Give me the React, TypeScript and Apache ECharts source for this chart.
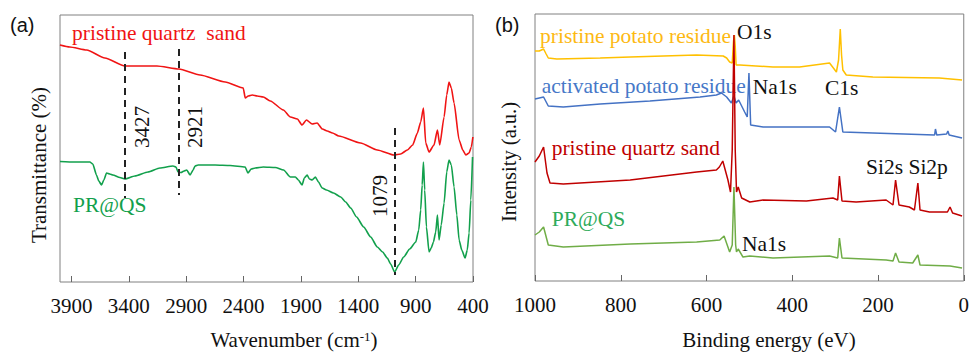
import React, { useEffect, useRef } from "react";
import * as echarts from "echarts";

// ---------- (a) FTIR ----------
const ftirTicks = [400, 900, 1400, 1900, 2400, 2900, 3400, 3900];

const ftirQuartzSand: [number, number][] = [
  [4000, 237], [3915, 235], [3767, 232], [3609, 224], [3434, 216], [3303, 216], [3155, 216],
  [2963, 213], [2779, 207], [2560, 200], [2403, 194], [2385, 184], [2359, 186], [2324, 187],
  [2281, 186], [2228, 185], [2167, 181], [2053, 172], [1992, 165], [1931, 163], [1890, 157],
  [1852, 162], [1802, 158], [1759, 159], [1713, 153], [1671, 151], [1625, 149], [1570, 146],
  [1380, 139], [1234, 132], [1089, 127], [1031, 128], [972, 132], [926, 137], [885, 149],
  [856, 160], [832, 174], [812, 139], [783, 130], [740, 137], [710, 152], [690, 137],
  [652, 165], [629, 187], [609, 200], [589, 194], [565, 179], [521, 142], [489, 132],
  [463, 127], [434, 129], [415, 135], [401, 145],
];

const ftirPRQS: [number, number][] = [
  [4000, 120.5], [3871, 120], [3740, 120], [3714, 118], [3682, 107], [3662, 101], [3638, 97],
  [3618, 102], [3594, 109], [3566, 108], [3539, 107], [3478, 104.5], [3434, 103], [3347, 106],
  [3233, 110], [3129, 114], [3015, 116], [2989, 115], [2971, 110], [2945, 109.5], [2919, 111],
  [2895, 112], [2866, 107], [2840, 112], [2823, 116], [2796, 117], [2648, 117], [2517, 116.5],
  [2386, 115], [2362, 109], [2333, 113], [2298, 114], [2228, 115], [2123, 114.5], [2051, 112],
  [1992, 105], [1948, 105], [1922, 102], [1890, 97], [1870, 104], [1846, 107], [1826, 103],
  [1802, 102], [1774, 105], [1747, 100], [1715, 94], [1677, 92], [1616, 89], [1553, 85],
  [1510, 80], [1466, 74], [1415, 65], [1353, 55], [1292, 45], [1234, 35], [1188, 30],
  [1147, 24], [1118, 18], [1083, 10], [1048, 17], [1004, 25], [952, 33], [899, 40], [873, 52],
  [856, 72], [843, 97], [832, 120], [821, 92], [806, 55], [783, 30], [764, 34], [745, 40],
  [725, 50], [710, 67], [696, 42], [677, 57], [652, 79], [629, 110], [609, 122], [589, 117],
  [565, 95], [541, 67], [521, 42], [498, 32], [469, 24], [450, 32], [434, 49], [419, 82],
  [404, 125],
];

// dashed marker lines: [wavenumber position, top value, bottom value]
const ftirMarkers: [number, number, number][] = [
  [3434, 230, 84],
  [2963, 233, 87],
  [1083, 154, 7],
];

// ---------- (b) XPS ----------
const xpsPristinePotato: [number, number][] = [
  [1000, 230], [990, 230], [980, 232], [974, 227], [969, 223], [949, 222], [848, 223],
  [778, 224], [623, 226], [561, 225], [553, 223], [546, 219], [540, 218], [537, 240],
  [535, 246], [533, 235], [531, 216], [522, 216], [445, 214], [383, 214], [313, 218],
  [297, 209], [292, 221], [288, 252], [285, 226], [282, 211], [274, 206], [212, 204],
  [57, 203], [4, 201],
];

const xpsActivatedPotato: [number, number][] = [
  [1000, 182], [980, 184], [969, 175], [934, 174], [848, 177], [732, 180], [615, 184],
  [577, 186], [565, 188], [553, 184], [542, 178], [536, 185], [531, 178], [525, 181],
  [511, 169], [505, 164], [501, 208], [497, 156], [468, 154], [383, 154], [313, 154],
  [299, 149], [290, 174], [282, 149], [212, 148], [68, 146], [66, 152], [63, 146],
  [40, 147], [37, 150], [34, 146], [4, 143],
];

const xpsQuartzSand: [number, number][] = [
  [1000, 119], [990, 125], [980, 134], [972, 108], [965, 98], [934, 97], [778, 101],
  [623, 109], [577, 111], [570, 114], [562, 120], [550, 101], [544, 89], [540, 131],
  [536, 246], [533, 131], [530, 89], [526, 94], [518, 83], [499, 79], [468, 81], [367, 80],
  [305, 83], [294, 81], [290, 105], [284, 80], [251, 79], [181, 81], [165, 76], [159, 101],
  [151, 76], [127, 74], [115, 71], [107, 98], [102, 71], [80, 69], [38, 69], [32, 74],
  [26, 68], [4, 65],
];

const xpsPRQS: [number, number][] = [
  [1000, 46], [990, 49], [980, 54], [969, 36], [934, 34], [778, 37], [623, 39], [569, 41],
  [559, 45], [546, 29], [540, 36], [536, 94], [532, 36], [530, 29], [526, 32], [515, 24],
  [499, 25], [445, 23], [313, 25], [294, 23], [290, 43], [284, 23], [181, 21], [165, 20],
  [159, 28], [151, 19], [119, 18], [107, 26], [102, 16], [32, 15], [4, 13],
];

const SERIF = "Liberation Serif";
const SANS = "Liberation Sans";

function txt(
  text: string,
  x: number,
  y: number,
  fill = "#111",
  opts: { size?: number; align?: string; rot?: number; family?: string; rich?: any } = {}
) {
  const size = opts.size ?? 21.5;
  const align = opts.align ?? "left";
  const family = opts.family ?? SERIF;
  return {
    type: "text",
    x,
    y,
    rotation: opts.rot ?? 0,
    silent: true,
    style: {
      text,
      fill,
      font: `${size}px "${family}"`,
      align,
      verticalAlign: "middle",
      rich: opts.rich,
    },
  };
}

export default function App() {
  const ref = useRef<HTMLDivElement>(null);

  useEffect(() => {
    if (!ref.current) return;
    const chart = echarts.init(ref.current, undefined, { renderer: "svg" });

    const axisLabelStyle = {
      fontSize: 21,
      fontFamily: SERIF,
      color: "#111",
      margin: 13,
      formatter: (v: number) => `{t|${v}}`,
      rich: { t: { fontSize: 21, fontFamily: SERIF, color: "#111" } },
    };

    const option: any = {
      animation: false,
      backgroundColor: "#fff",
      textStyle: { fontFamily: SERIF, fontSize: 21 },
      grid: [
        { left: 60, top: 15, width: 413, height: 267, show: true, borderColor: "#808080", borderWidth: 1 },
        { left: 535, top: 14, width: 429, height: 267, show: true, borderColor: "#808080", borderWidth: 1 },
      ],
      xAxis: [
        {
          gridIndex: 0,
          type: "value",
          min: 400,
          max: 4000,
          inverse: true,
          axisLine: { show: false },
          axisTick: { show: true, inside: true, length: 6, lineStyle: { color: "#666" }, customValues: ftirTicks },
          axisLabel: { ...axisLabelStyle, customValues: ftirTicks },
          splitLine: { show: false },
        },
        {
          gridIndex: 1,
          type: "value",
          min: 0,
          max: 1000,
          interval: 200,
          inverse: true,
          axisLine: { show: false },
          axisTick: { show: true, inside: true, length: 6, lineStyle: { color: "#666" } },
          axisLabel: { ...axisLabelStyle },
          splitLine: { show: false },
        },
      ],
      yAxis: [
        { gridIndex: 0, type: "value", min: 0, max: 267, show: false },
        { gridIndex: 1, type: "value", min: 0, max: 267, show: false },
      ],
      series: [
        {
          type: "line",
          xAxisIndex: 0,
          yAxisIndex: 0,
          data: ftirQuartzSand,
          symbol: "none",
          smooth: 0.2,
          smoothMonotone: "x",
          lineStyle: { color: "#f01414", width: 1.6 },
          z: 3,
          markLine: {
            silent: true,
            symbol: ["none", "none"],
            label: { show: false },
            lineStyle: { color: "#222", width: 2, type: [7, 5] },
            data: ftirMarkers.map(([x, y1, y2]) => [{ coord: [x, y1] }, { coord: [x, y2] }]),
          },
        },
        {
          type: "line",
          xAxisIndex: 0,
          yAxisIndex: 0,
          data: ftirPRQS,
          symbol: "none",
          smooth: 0.2,
          smoothMonotone: "x",
          lineStyle: { color: "#12a04c", width: 1.6 },
          z: 2,
        },
        {
          type: "line",
          xAxisIndex: 1,
          yAxisIndex: 1,
          data: xpsPristinePotato,
          symbol: "none",
          lineStyle: { color: "#ffc000", width: 1.5 },
          z: 2,
        },
        {
          type: "line",
          xAxisIndex: 1,
          yAxisIndex: 1,
          data: xpsActivatedPotato,
          symbol: "none",
          lineStyle: { color: "#4472c4", width: 1.5 },
          z: 2,
        },
        {
          type: "line",
          xAxisIndex: 1,
          yAxisIndex: 1,
          data: xpsPRQS,
          symbol: "none",
          lineStyle: { color: "#70ad47", width: 1.5 },
          z: 2,
        },
        {
          type: "line",
          xAxisIndex: 1,
          yAxisIndex: 1,
          data: xpsQuartzSand,
          symbol: "none",
          lineStyle: { color: "#c00000", width: 1.5 },
          z: 3,
        },
      ],
      graphic: [
        // panel (a)
        txt("(a)", 10, 25, "#111", { size: 20, family: SANS }),
        txt("pristine quartz  sand", 72, 33, "#f01414"),
        txt("PR@QS", 73, 205, "#12a04c"),
        txt("3427", 141.5, 127, "#111", { align: "center", rot: Math.PI / 2, size: 21 }),
        txt("2921", 195, 127, "#111", { align: "center", rot: Math.PI / 2, size: 21 }),
        txt("1079", 380, 196, "#111", { align: "center", rot: Math.PI / 2, size: 21 }),
        txt("Transmittance (%)", 39, 165, "#111", { align: "center", rot: Math.PI / 2, size: 21 }),
        txt("Wavenumber (cm{s|-1})", 294, 340, "#111", {
          align: "center",
          size: 21,
          rich: { s: { fontSize: 13, fontFamily: SERIF, verticalAlign: "top", fill: "#111" } },
        }),
        // panel (b)
        txt("(b)", 495, 25, "#111", { size: 20, family: SANS }),
        txt("pristine potato residue", 540, 36, "#fdb913"),
        txt("O1s", 737, 32),
        txt("activated potato residue", 541.7, 86, "#4678c8"),
        txt("Na1s", 752.7, 87),
        txt("C1s", 825, 88),
        txt("pristine quartz sand", 551.7, 148, "#c00000"),
        txt("Si2s Si2p", 866, 167),
        txt("PR@QS", 551.7, 219, "#2eaa5a"),
        txt("Na1s", 742, 244),
        txt("Intensity (a.u.)", 509, 162, "#111", { align: "center", rot: Math.PI / 2, size: 20.5 }),
        txt("Binding energy (eV)", 769, 340, "#111", { align: "center", size: 21 }),
      ],
    };

    chart.setOption(option);
    return () => chart.dispose();
  }, []);

  return (
    <div
      ref={ref}
      style={{
        position: "absolute",
        left: 0,
        top: 0,
        width: 972,
        height: 352,
        background: "#fff",
        fontFamily: "Liberation Serif",
      }}
    />
  );
}
